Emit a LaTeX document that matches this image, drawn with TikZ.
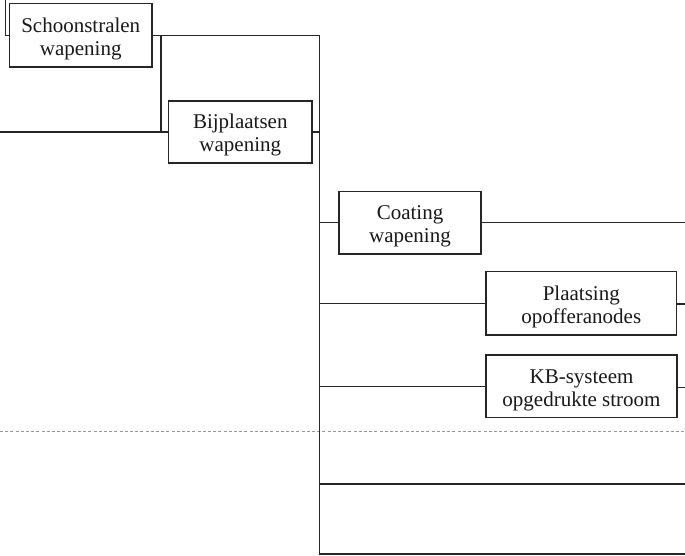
\documentclass[tikz,border=0pt]{standalone}
\usepackage{fontspec}
\setmainfont{Liberation Serif}
% invisible strut that makes the first text line of a box taller
\newcommand{\toprow}{\rule{0pt}{21.5pt}}
\begin{document}
\begin{tikzpicture}[x=1pt,y=-1pt,
  wire/.style={draw=black!85,line width=1.3pt},
  measure/.style={rectangle,draw=black!85,line width=1.3pt,fill=white,
    inner sep=0pt,align=center,text=black!90,
    font=\fontsize{21}{23}\selectfont},
  guide/.style={draw=black!40,line width=0.9pt,dash pattern=on 3pt off 2.2pt}]
\useasboundingbox (0,0) rectangle (685,555);

% boxes
\node[measure,minimum width=142.5pt,minimum height=63.5pt] (S) at (80.75,35.25) {\toprow Schoonstralen\\wapening};
\node[measure,minimum width=143.3pt,minimum height=62pt] (B) at (240.3,132) {\toprow Bijplaatsen\\wapening};
\node[measure,minimum width=142pt,minimum height=62.3pt] (C) at (410,222.8) {\toprow Coating\\wapening};
\node[measure,minimum width=190.7pt,minimum height=63.3pt] (P) at (581.3,303.3) {\toprow Plaatsing\\opofferanodes};
\node[measure,minimum width=191pt,minimum height=62.3pt] (K) at (581.5,386.2) {\toprow KB-systeem\\opgedrukte stroom};

% free ends
\coordinate (topleft) at (5.5,0);
\coordinate (spinetop) at (319.5,35.25);
\coordinate (spinebot) at (319.5,555);
\coordinate (branch) at (161,35.25);
\coordinate (leftend) at (0,132);
\coordinate (rightedge) at (685,0);
\coordinate (rowA) at (319.5,484);
\coordinate (rowB) at (319.5,554);
\coordinate (dashL) at (0,431.7);
\coordinate (dashR) at (685,431.7);

% dashed guide
\draw[guide] (dashL) -- (dashR);

% connectors
\draw[wire] (topleft) |- (S.west);
\draw[wire] (S.east) -- (spinetop) -- (spinebot);
\draw[wire] (branch) |- (B.west);
\draw[wire] (leftend) -- (branch |- leftend);
\draw[wire] (B.east) -- (B.east -| spinetop);
\draw[wire] (C.west -| spinetop) -- (C.west);
\draw[wire] (C.east) -- (C.east -| rightedge);
\draw[wire] (P.west -| spinetop) -- (P.west);
\draw[wire] ([yshift=-0.6pt]P.east) -- ([yshift=-0.6pt]P.east -| rightedge);
\draw[wire] (K.west -| spinetop) -- (K.west);
\draw[wire] ([yshift=-1.2pt]K.east) -- ([yshift=-1.2pt]K.east -| rightedge);
\draw[wire] (rowA) -- (rowA -| rightedge);
\draw[wire] (rowB) -- (rowB -| rightedge);
\end{tikzpicture}
\end{document}
